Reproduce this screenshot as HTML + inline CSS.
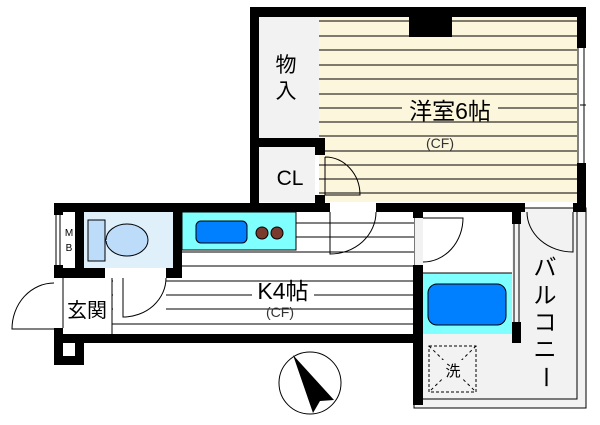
<!DOCTYPE html>
<html><head><meta charset="utf-8"><style>
html,body{margin:0;padding:0;background:#fff;width:600px;height:425px;overflow:hidden}
text{font-family:"Liberation Sans","Noto Sans CJK JP",sans-serif}
</style></head><body>
<svg width="600" height="425" viewBox="0 0 600 425" xmlns="http://www.w3.org/2000/svg">
<!-- balcony -->
<rect x="414" y="208" width="172" height="200" fill="#f2f2f2" stroke="#000" stroke-width="1"/>
<polyline points="577,208 577,399 423,399" fill="none" stroke="#000" stroke-width="1"/>
<rect x="423" y="212" width="89" height="61" fill="#fff"/>
<!-- western room floor -->
<rect x="319" y="17" width="258" height="185" fill="#fbf6dc"/>
<g stroke="#000" stroke-width="1">
<line x1="319" y1="21" x2="577" y2="21"/><line x1="319" y1="36" x2="577" y2="36"/><line x1="319" y1="50" x2="577" y2="50"/>
<line x1="319" y1="65" x2="577" y2="65"/><line x1="319" y1="79" x2="577" y2="79"/><line x1="319" y1="94" x2="577" y2="94"/>
<line x1="319" y1="108" x2="577" y2="108"/><line x1="319" y1="122" x2="577" y2="122"/><line x1="319" y1="136" x2="577" y2="136"/>
<line x1="319" y1="151" x2="577" y2="151"/><line x1="319" y1="165" x2="577" y2="165"/><line x1="319" y1="179" x2="577" y2="179"/>
<line x1="319" y1="193" x2="577" y2="193"/>
</g>
<!-- storage & CL -->
<rect x="259" y="17" width="60" height="121" fill="#f2f2f2"/>
<rect x="259" y="147" width="56" height="55" fill="#f2f2f2"/>
<!-- kitchen floor -->
<rect x="112" y="212" width="302" height="122" fill="#fff"/>
<g stroke="#000" stroke-width="1">
<line x1="296" y1="223" x2="414" y2="223"/><line x1="296" y1="237" x2="414" y2="237"/>
<line x1="112" y1="252" x2="414" y2="252"/><line x1="112" y1="266" x2="414" y2="266"/>
<line x1="112" y1="281" x2="414" y2="281"/><line x1="112" y1="295" x2="414" y2="295"/>
<line x1="112" y1="309" x2="414" y2="309"/><line x1="112" y1="324" x2="414" y2="324"/>
<line x1="112" y1="278" x2="112" y2="334"/>
</g>
<rect x="113" y="278" width="53" height="45" fill="#fff"/>
<!-- toilet -->
<rect x="84" y="212" width="89" height="56" fill="#dff0fb"/>
<rect x="88" y="220" width="17" height="41" fill="#bcdcf9" stroke="#000"/>
<ellipse cx="127" cy="240" rx="21" ry="16" fill="#bcdcf9" stroke="#000"/>
<rect x="106" y="240" width="8" height="1" fill="#bcdcf9"/>
<!-- kitchen counter -->
<rect x="182" y="212" width="114" height="38" fill="#80ffff" stroke="#000"/>
<rect x="196" y="221" width="51" height="22" rx="5" fill="#0080ff" stroke="#000"/>
<circle cx="262" cy="233" r="6" fill="#7b3a2e" stroke="#000"/>
<circle cx="277" cy="233" r="6" fill="#7b3a2e" stroke="#000"/>
<!-- bath -->
<rect x="423" y="273" width="89" height="61" fill="#80ffff"/>
<line x1="423" y1="273" x2="512" y2="273" stroke="#000"/>
<rect x="428" y="284" width="78" height="41" rx="9" fill="#0080ff" stroke="#000"/>
<!-- walls -->
<g fill="#000">
<rect x="250" y="7" width="336" height="10"/>
<rect x="250" y="7" width="9" height="205"/>
<rect x="577" y="7" width="9" height="41"/>
<rect x="577" y="163" width="9" height="49"/>
<rect x="409" y="17" width="43" height="20"/>
<rect x="259" y="138" width="66" height="9"/>
<rect x="315" y="147" width="10" height="8"/>
<rect x="315" y="195" width="10" height="17"/>
<rect x="54" y="203" width="276" height="9"/>
<rect x="376" y="203" width="149" height="9"/>
<rect x="573" y="203" width="13" height="9"/>
<rect x="54" y="203" width="9" height="12"/>
<rect x="54" y="265" width="9" height="13"/>
<rect x="54" y="328" width="9" height="37"/>
<rect x="75" y="212" width="9" height="66"/>
<rect x="54" y="268" width="51" height="10"/>
<rect x="166" y="268" width="16" height="10"/>
<rect x="173" y="212" width="9" height="66"/>
<rect x="63" y="334" width="359" height="9"/>
<rect x="75" y="343" width="9" height="22"/>
<rect x="54" y="356" width="30" height="9"/>
<rect x="413" y="204" width="10" height="14"/>
<rect x="413" y="265" width="10" height="140"/>
<rect x="512" y="204" width="9" height="20"/>
<rect x="512" y="322" width="9" height="21"/>
</g>
<!-- windows -->
<g stroke="#000" stroke-width="1" fill="none">
<line x1="578" y1="48" x2="578" y2="163"/><line x1="584" y1="48" x2="584" y2="163"/>
<line x1="580" y1="105" x2="586" y2="105"/>
<line x1="56" y1="215" x2="56" y2="265"/><line x1="60" y1="215" x2="60" y2="265"/>
<line x1="514" y1="224" x2="514" y2="322"/><line x1="519" y1="224" x2="519" y2="322"/>
<line x1="63" y1="278" x2="63" y2="328"/>
</g>
<!-- doors -->
<g stroke="#000" stroke-width="1" fill="none">
<path d="M325,157 L325,195 L360,195 A35,38 0 0 0 325,157"/>
<path d="M330,212 L330,254 A46,42 0 0 0 376,212"/>
<path d="M423,218 L463,218 A40,44 0 0 1 423,262"/>
<path d="M573,212 L573,252 A46,40 0 0 1 527,212"/>
<path d="M123,278 L123,317 A43,39 0 0 0 166,278"/>
<path d="M54,329 L12,329 A42,46 0 0 1 54,283"/>
</g>
<!-- laundry -->
<rect x="429" y="346" width="47" height="46" fill="none" stroke="#000" stroke-dasharray="3,2"/>
<line x1="429" y1="346" x2="476" y2="392" stroke="#000" stroke-dasharray="3,3"/>
<line x1="476" y1="346" x2="429" y2="392" stroke="#000" stroke-dasharray="3,3"/>
<rect x="442" y="360" width="22" height="18" fill="#f2f2f2"/>
<text x="453" y="376" font-size="15" text-anchor="middle">洗</text>
<!-- compass -->
<circle cx="310" cy="383" r="31" fill="#fff" stroke="#000"/>
<polygon points="293,355 334,400 320,401 313,413" fill="#000"/>
<!-- labels -->
<rect x="402" y="98" width="96" height="23" fill="#fbf6dc"/>
<text x="450" y="119" font-size="23" text-anchor="middle">洋室6帖</text>
<rect x="420" y="137" width="40" height="13" fill="#fbf6dc"/>
<text x="440" y="148" font-size="14" text-anchor="middle" fill="#333">(CF)</text>
<text x="286" y="72" font-size="21" text-anchor="middle">物</text>
<text x="286" y="98" font-size="21" text-anchor="middle">入</text>
<text x="290" y="185" font-size="21" text-anchor="middle">CL</text>
<rect x="252" y="282" width="62" height="20" fill="#fff"/>
<text x="283" y="299" font-size="23" text-anchor="middle">K4帖</text>
<text x="280" y="317" font-size="14" text-anchor="middle" fill="#333">(CF)</text>
<text x="87" y="317" font-size="20" text-anchor="middle">玄関</text>
<text x="69" y="236" font-size="10" text-anchor="middle">M</text>
<text x="69" y="251" font-size="10" text-anchor="middle">B</text>
<g font-size="23" text-anchor="middle">
<text x="545" y="275">バ</text>
<text x="545" y="303">ル</text>
<text x="545" y="330">コ</text>
<text x="545" y="357">ニ</text>
<text x="545" y="384" transform="rotate(90 545 377)">ー</text>
</g>
</svg>
</body></html>
